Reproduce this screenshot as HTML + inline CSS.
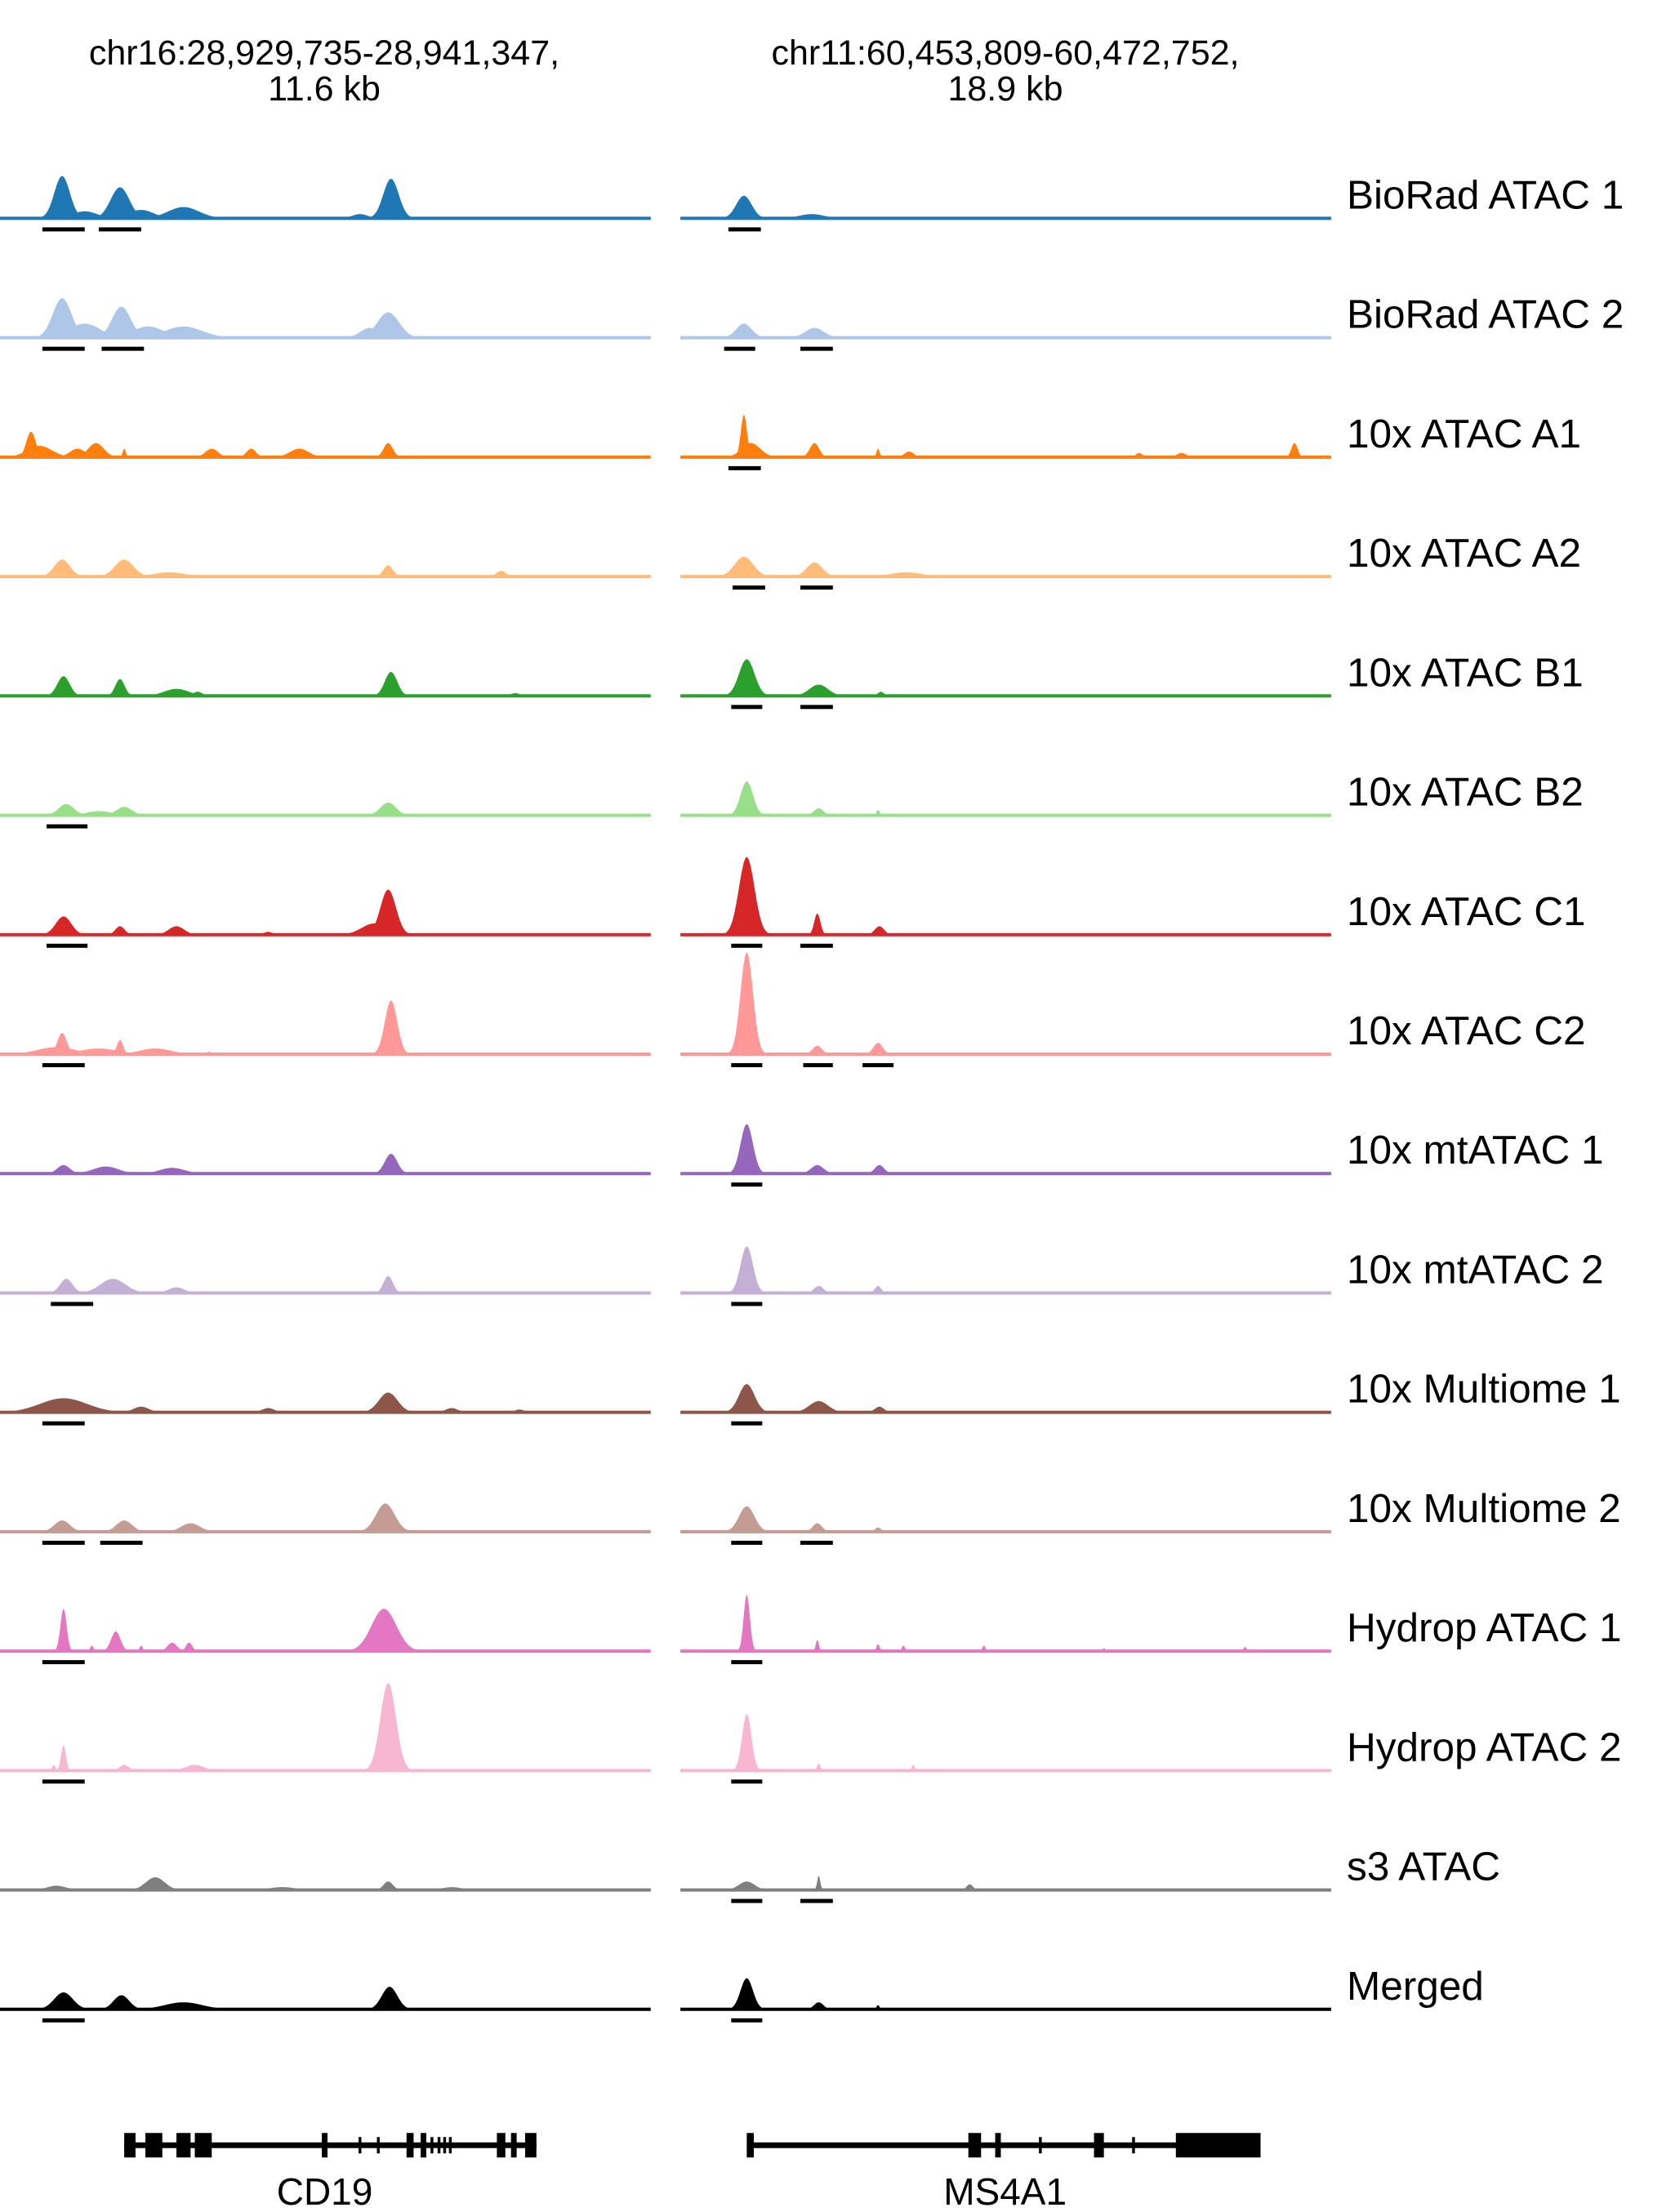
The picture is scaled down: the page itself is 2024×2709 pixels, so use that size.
<!DOCTYPE html>
<html><head><meta charset="utf-8"><style>
html,body{margin:0;padding:0;background:#fff}
svg{display:block}
text{font-family:"Liberation Sans","DejaVu Sans",sans-serif;fill:#000}
</style></head><body>
<svg id="chart" width="2024" height="2709" viewBox="0 0 2024 2709" xmlns="http://www.w3.org/2000/svg">
<text x="397" y="79" font-size="43" text-anchor="middle">chr16:28,929,735-28,941,347,</text>
<text x="397" y="123" font-size="43" text-anchor="middle">11.6 kb</text>
<text x="1231" y="79" font-size="43" text-anchor="middle">chr11:60,453,809-60,472,752,</text>
<text x="1231" y="123" font-size="43" text-anchor="middle">18.9 kb</text>
<g id="tracks"></g>
<g id="genes"></g>
</svg>
<script>
// Track names and colours
const trackNames = ["BioRad ATAC 1","BioRad ATAC 2","10x ATAC A1","10x ATAC A2","10x ATAC B1","10x ATAC B2","10x ATAC C1","10x ATAC C2","10x mtATAC 1","10x mtATAC 2","10x Multiome 1","10x Multiome 2","Hydrop ATAC 1","Hydrop ATAC 2","s3 ATAC","Merged"];
const trackColors = ["#1f77b4","#aec7e8","#ff7f0e","#ffbb78","#2ca02c","#98df8a","#d62728","#ff9896","#9467bd","#c5b0d5","#8c564b","#c49c94","#e377c2","#f7b6d2","#7f7f7f","#000000"];
// Peaks: [position (0-461 region units), signal height, width]
const leftPeaks = [
 [[44,30,5],[85,22,6],[130,8,10],[277,28,5],[255,3,5],[60,5,8],[100,6,8]],
 [[44,28,6],[86,22,6],[130,8,12],[275,18,7],[60,10,10],[105,8,10],[262,7,6]],
 [[22,18,3],[28,8,8],[68,10,5],[55,6,5],[88,6,1],[150,6,4],[178,6,3],[212,6,6],[275,10,3]],
 [[44,12,5],[88,12,6],[120,3,10],[275,8,3],[355,4,3]],
 [[45,14,4],[85,12,3],[125,5,8],[277,17,4],[140,3,3],[365,2,3]],
 [[47,8,5],[88,6,5],[275,9,5],[70,3,8]],
 [[45,13,5],[85,6,3],[125,6,5],[275,32,5],[265,8,8],[190,2,3]],
 [[44,15,3],[85,10,2],[40,5,12],[70,4,12],[110,4,10],[277,38,4],[148,2,1]],
 [[45,6,4],[75,5,8],[122,4,8],[277,14,4]],
 [[47,10,4],[80,10,8],[125,4,5],[275,12,3]],
 [[45,10,15],[100,4,5],[275,14,6],[190,3,4],[320,3,4],[368,2,3]],
 [[44,8,5],[88,8,5],[135,6,6],[273,20,6]],
 [[45,30,2],[82,14,3],[122,6,3],[134,6,2],[272,30,8],[65,4,1],[100,4,1]],
 [[45,18,1.5],[275,62,5],[88,4,3],[138,4,6],[38,4,1]],
 [[110,9,6],[275,6,3],[40,3,6],[200,2,8],[320,2,6]],
 [[45,12,6],[86,10,5],[130,5,12],[276,16,5]]
];
const rightPeaks = [
 [[45,16,5],[93,3,8]],
 [[45,10,5],[95,7,6]],
 [[45,30,2],[50,10,6],[95,10,3],[140,6,1],[162,4,3],[325,3,2],[355,3,3],[435,10,2]],
 [[45,14,6],[95,10,5],[160,3,10]],
 [[47,26,5],[98,8,6],[142,3,2]],
 [[47,24,4],[98,5,3],[140,4,1]],
 [[47,55,5],[97,15,2],[141,6,3]],
 [[47,72,4],[97,6,3],[140,8,3]],
 [[47,35,4],[97,6,4],[141,6,3]],
 [[47,33,4],[98,5,3],[140,5,2]],
 [[47,20,5],[98,8,6],[141,4,3]],
 [[47,18,5],[97,6,3],[140,3,2]],
 [[47,40,2],[97,8,1],[140,5,1],[158,4,1],[215,4,1],[300,2,1],[400,3,1]],
 [[47,40,3],[98,5,1],[165,4,1]],
 [[47,6,5],[98,10,1],[205,4,2]],
 [[47,22,4],[98,5,3],[140,3,1]]
];
// Called peak regions [start,end]
const leftCalls = [[[30,60],[70,100]],[[30,60],[72,102]],[],[],[],[[33,62]],[[33,62]],[[30,60]],[],[[36,66]],[[30,60]],[[30,60],[71,101]],[[30,60]],[[30,60]],[],[[30,60]]];
const rightCalls = [[[34,57]],[[31,53],[85,108]],[[34,57]],[[37,60],[85,108]],[[36,58],[85,108]],[],[[36,58],[85,108]],[[36,58],[87,108],[129,151]],[[36,58]],[[36,58]],[[36,58]],[[36,58],[85,108]],[[36,58]],[[36,58]],[[36,58],[85,108]],[[36,58]]];
// Gene exons [start,end] in region units
const cd19Exons = [[88,96],[103,115],[125,135],[138,150],[228,232],[254,256],[267,269],[288,293],[298,302],[305,307],[310,312],[314,316],[318,320],[352,358],[362,366],[372,380]];
const ms4a1Exons = [[529,534],[686,695],[705,709],[736,738],[775,782],[802,804],[833,893]];

const S = 2024/1171;
const ns = "http://www.w3.org/2000/svg";
const panels = [{x0:0,w:461,peaks:leftPeaks,calls:leftCalls,side:"left"},{x0:482,w:461,peaks:rightPeaks,calls:rightCalls,side:"right"}];
const xScale = (p,u) => (p.x0 + u) * S;
const baseY = i => (155 + i*84.6) * S - 0.5;
const hScale = h => h * S;
const tg = document.getElementById("tracks");
function mk(tag, attrs){const e=document.createElementNS(ns,tag);for(const k in attrs)e.setAttribute(k,attrs[k]);return e;}
trackNames.forEach((name,i)=>{
  const y = baseY(i);
  panels.forEach(p=>{
    const pk = p.peaks[i];
    let d = "M"+xScale(p,0)+","+y;
    for(let u=0;u<=p.w;u+=0.5){
      let v=0;
      pk.forEach(q=>{const z=(u-q[0])/(q[2]*1.3);v=Math.max(v,q[1]*Math.exp(-z*z*0.7));});
      d += " L"+xScale(p,u).toFixed(1)+","+(y-hScale(v)).toFixed(1);
    }
    d += " L"+xScale(p,p.w)+","+y+" Z";
    const area = mk("path",{d:d,fill:trackColors[i]});
    
    
    tg.appendChild(area);
    const base = mk("line",{x1:xScale(p,0),x2:xScale(p,p.w),y1:y,y2:y,stroke:trackColors[i],"stroke-width":4});
    
    
    tg.appendChild(base);
    p.calls[i].forEach(c=>{
      const r = mk("rect",{x:xScale(p,c[0]),y:y+11,width:(c[1]-c[0])*S,height:5,fill:"#000"});
      
      
      tg.appendChild(r);
    });
  });
  const t = mk("text",{x:1649,y:y-12,"font-size":49.5});
  t.textContent = name;
  
  
  tg.appendChild(t);
});
const gg = document.getElementById("genes");
const gy = 1520*S;
function gene(exons, x1, x2, label, lx){
  const l = mk("line",{x1:x1*S,x2:x2*S,y1:gy,y2:gy,stroke:"#000","stroke-width":7});
  
  
  gg.appendChild(l);
  exons.forEach(e=>{
    const thin = (e[1]-e[0])<=3;
    const h = thin?20:30;
    const r = mk("rect",{x:e[0]*S,y:gy-h/2,width:Math.max((e[1]-e[0])*S,2),height:h,fill:"#000"});
    
    
    gg.appendChild(r);
  });
  const t = mk("text",{x:lx*S,y:2700,"font-size":46,"text-anchor":"middle"});
  t.textContent = label;
  
  
  gg.appendChild(t);
}
gene(cd19Exons, 88, 380, "CD19", 230);
gene(ms4a1Exons, 530, 893, "MS4A1", 712);
</script>
</body></html>
